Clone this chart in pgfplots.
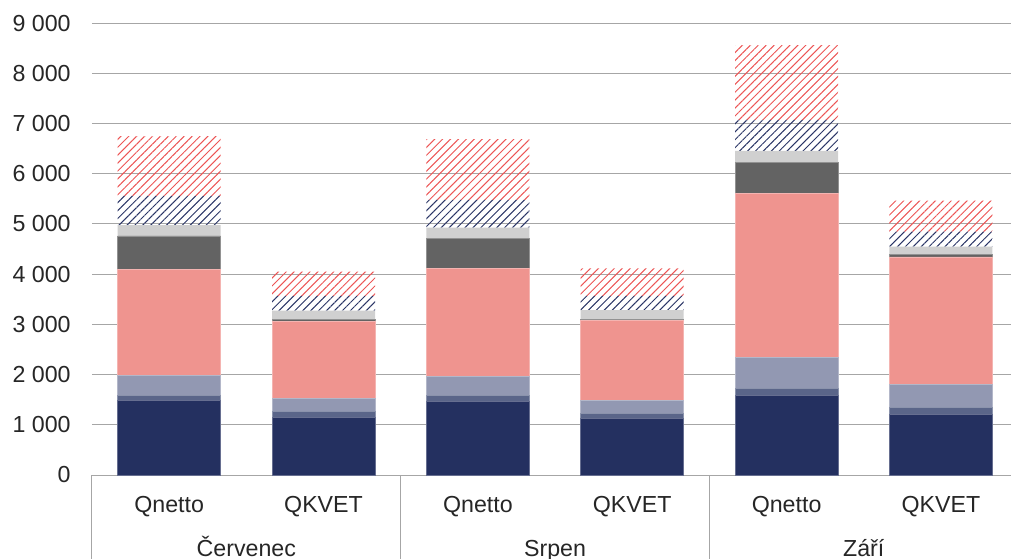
\documentclass[border=0pt]{standalone}
\usepackage{fontspec}
\setmainfont{Liberation Sans}
\usepackage{pgfplots}
\pgfplotsset{compat=1.18}
\usetikzlibrary{patterns.meta}
\definecolor{cnavy}{HTML}{243060}
\definecolor{cslate}{HTML}{5A6589}
\definecolor{cgblue}{HTML}{9298B2}
\definecolor{cpink}{HTML}{EF948F}
\definecolor{cdgray}{HTML}{636363}
\definecolor{clgray}{HTML}{D0D0D0}
\definecolor{hnavy}{HTML}{2A3566}
\definecolor{hred}{HTML}{EC5555}
\definecolor{gridgray}{HTML}{A6A6A6}
\begin{document}
\begin{tikzpicture}
\useasboundingbox (0,0) rectangle (505.5pt,279pt);
\begin{axis}[
  at={(46pt,41.5pt)}, anchor=south west,
  width=459.5pt, height=226pt, scale only axis,
  xmin=-0.5, xmax=5.454, ymin=0, ymax=9000,
  enlargelimits=false,
  ybar stacked, bar width=51.5pt,
  xtick={0,...,5},
  xticklabels={Qnetto,QKVET,Qnetto,QKVET,Qnetto,QKVET},
  ytick={0,1000,...,9000},
  yticklabels={0,1 000,2 000,3 000,4 000,5 000,6 000,7 000,8 000,9 000},
  ymajorgrids, grid style={color=gridgray, line width=0.5pt},
  axis line style={draw=none}, major tick length=0pt,
  tick label style={font=\fontsize{11.6}{13}\selectfont, text=black!85},
  yticklabel style={inner sep=0pt, xshift=-10.5pt, anchor=east},
  xticklabel style={inner sep=0pt, anchor=base, yshift=-18.5pt},
  clip=false,
]
\addplot[fill=cnavy, draw=cnavy!70!white, line width=0.3pt] coordinates {(0,1480) (1,1141) (2,1460) (3,1121) (4,1587) (5,1201)};
\addplot[fill=cslate, draw=cslate!70!white, line width=0.3pt] coordinates {(0,113) (1,120) (2,120) (3,107) (4,139) (5,140)};
\addplot[fill=cgblue, draw=cgblue!70!white, line width=0.3pt] coordinates {(0,398) (1,272) (2,391) (3,265) (4,610) (5,458)};
\addplot[fill=cpink, draw=cpink!70!white, line width=0.3pt] coordinates {(0,2105) (1,1520) (2,2145) (3,1580) (4,3273) (5,2542)};
\addplot[fill=cdgray, draw=cdgray!70!white, line width=0.3pt] coordinates {(0,664) (1,40) (2,597) (3,33) (4,618) (5,44)};
\addplot[fill=clgray, draw=none] coordinates {(0,218) (1,179) (2,212) (3,179) (4,225) (5,161)};
\addplot[draw=none, pattern={Lines[angle=45,distance=2.8pt,line width=0.5pt]}, pattern color=hnavy] coordinates {(0,578) (1,293) (2,551) (3,280) (4,617) (5,299)};
\addplot[draw=none, pattern={Lines[angle=45,distance=2.8pt,line width=0.5pt]}, pattern color=hred] coordinates {(0,1194) (1,484) (2,1214) (3,551) (4,1493) (5,617)};
\draw[gridgray, line width=0.5pt] (axis cs:-0.5,0) -- ([yshift=-42pt]axis cs:-0.5,0);
\draw[gridgray, line width=0.5pt] (axis cs:1.5,0) -- ([yshift=-42pt]axis cs:1.5,0);
\draw[gridgray, line width=0.5pt] (axis cs:3.5,0) -- ([yshift=-42pt]axis cs:3.5,0);
\node[anchor=base, inner sep=0pt, font=\fontsize{11.6}{13}\selectfont, text=black!85] at ([yshift=-40.5pt]axis cs:0.5,0) {Červenec};
\node[anchor=base, inner sep=0pt, font=\fontsize{11.6}{13}\selectfont, text=black!85] at ([yshift=-40.5pt]axis cs:2.5,0) {Srpen};
\node[anchor=base, inner sep=0pt, font=\fontsize{11.6}{13}\selectfont, text=black!85] at ([yshift=-40.5pt]axis cs:4.5,0) {Září};
\end{axis}
\end{tikzpicture}
\end{document}
